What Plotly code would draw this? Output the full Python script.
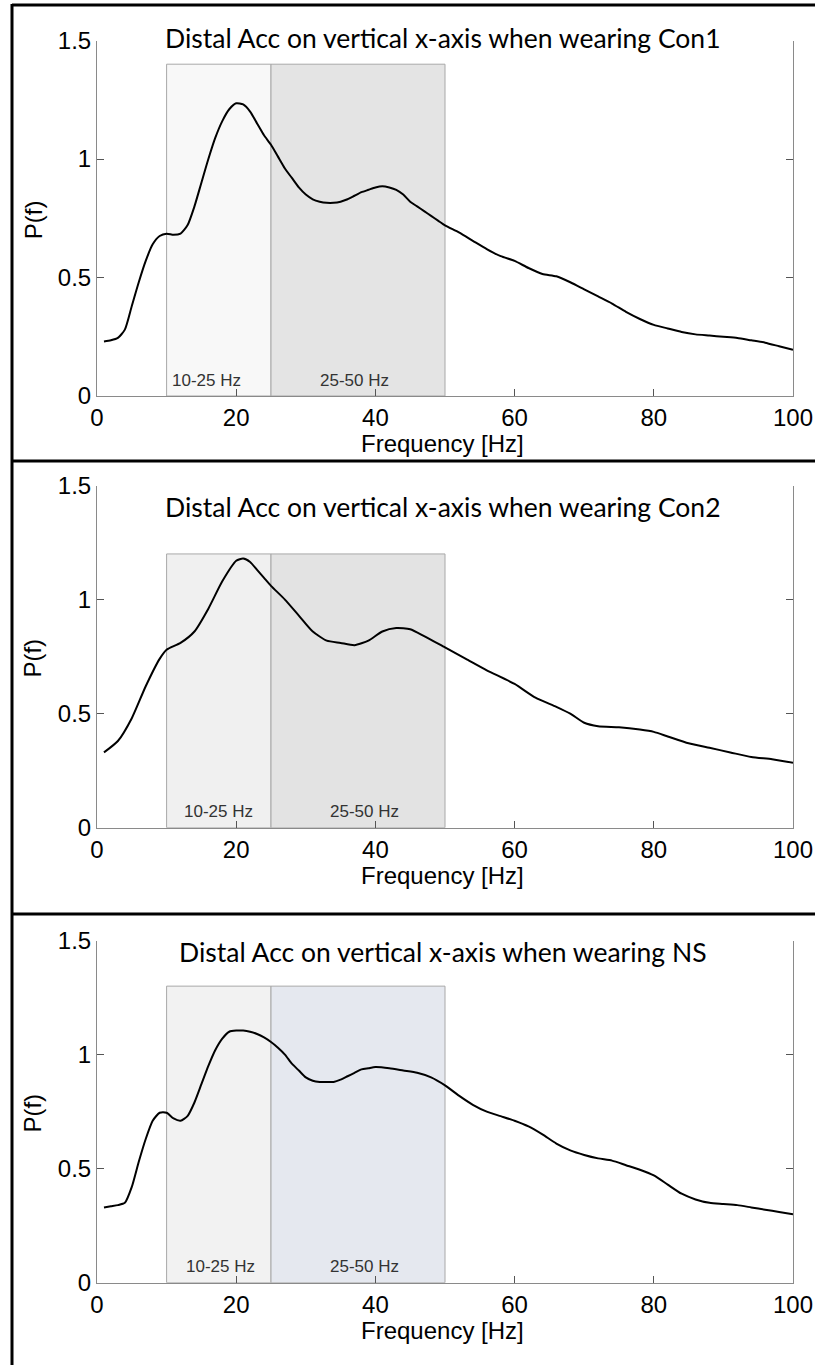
import plotly.graph_objects as go

W, H = 815, 1365

# ---------------- data ----------------
titles = [
    "Distal Acc on vertical x-axis when wearing Con1",
    "Distal Acc on vertical x-axis when wearing Con2",
    "Distal Acc on vertical x-axis when wearing NS",
]

freq_con1 = [1, 2, 3, 4, 5, 6, 7, 8, 9, 10, 11, 12, 13, 14, 15, 16, 17, 18, 19, 20, 21, 22, 23, 24, 25,
             26, 27, 28, 29, 30, 31, 32, 33, 34, 35, 36, 37, 38, 39, 40, 41, 42, 43, 44, 45, 46, 47, 48, 49, 50,
             52, 54, 56, 58, 60, 62, 64, 66, 68, 70, 72, 74, 76, 78, 80, 82, 84, 86, 88, 90, 92, 94, 96, 98, 100]
pf_con1 = [0.23, 0.235, 0.245, 0.28, 0.38, 0.48, 0.57, 0.64, 0.675, 0.685, 0.68, 0.685, 0.72, 0.80, 0.90,
           1.00, 1.09, 1.16, 1.21, 1.235, 1.23, 1.20, 1.15, 1.10, 1.06,
           1.01, 0.96, 0.92, 0.88, 0.85, 0.83, 0.82, 0.815, 0.815, 0.82, 0.83, 0.845, 0.86, 0.87, 0.88,
           0.885, 0.88, 0.87, 0.85, 0.82, 0.80, 0.78, 0.76, 0.74, 0.72,
           0.69, 0.655, 0.62, 0.59, 0.57, 0.54, 0.515, 0.505, 0.48, 0.45, 0.42, 0.39, 0.355, 0.325, 0.30,
           0.285, 0.27, 0.26, 0.255, 0.25, 0.245, 0.235, 0.225, 0.21, 0.195]

freq_con2 = [1, 3, 5, 7, 9, 10, 12, 14, 16, 18, 20, 21, 22, 23, 24, 25, 27, 29, 31, 33, 35, 37, 39, 41,
             43, 45, 47, 50, 53, 56, 60, 63, 66, 68, 70, 72, 75, 78, 80, 82, 85, 88, 91, 94, 97, 100]
pf_con2 = [0.33, 0.38, 0.48, 0.62, 0.74, 0.78, 0.81, 0.86, 0.96, 1.08, 1.17, 1.18, 1.165, 1.13, 1.095, 1.06,
           1.00, 0.93, 0.86, 0.82, 0.81, 0.80, 0.82, 0.86, 0.875, 0.87, 0.84, 0.79, 0.74, 0.69, 0.63, 0.57,
           0.53, 0.50, 0.46, 0.445, 0.44, 0.43, 0.42, 0.40, 0.37, 0.35, 0.33, 0.31, 0.30, 0.285]

freq_ns = [1, 2, 3, 4, 5, 6, 7, 8, 9, 10, 11, 12, 13, 14, 15, 16, 17, 18, 19, 20, 21, 22, 23, 24, 25,
           26, 27, 28, 29, 30, 31, 32, 33, 34, 35, 36, 37, 38, 39, 40, 42, 44, 46, 48, 50,
           52, 54, 56, 58, 60, 62, 64, 66, 68, 70, 72, 74, 76, 78, 80, 82, 84, 86, 88, 90, 92, 94, 96, 98, 100]
pf_ns = [0.33, 0.335, 0.34, 0.35, 0.42, 0.53, 0.63, 0.71, 0.745, 0.745, 0.72, 0.71, 0.73, 0.79, 0.87,
         0.95, 1.02, 1.07, 1.10, 1.105, 1.105, 1.10, 1.09, 1.075, 1.055,
         1.03, 1.00, 0.96, 0.93, 0.90, 0.885, 0.88, 0.88, 0.88, 0.89, 0.905, 0.92, 0.935, 0.94, 0.945,
         0.94, 0.93, 0.92, 0.90, 0.865,
         0.82, 0.78, 0.75, 0.73, 0.71, 0.685, 0.65, 0.61, 0.58, 0.56, 0.545, 0.535, 0.515, 0.495, 0.47,
         0.43, 0.39, 0.365, 0.35, 0.345, 0.34, 0.33, 0.32, 0.31, 0.30]

band_edges = [10, 25, 50]
band_labels = ["10-25 Hz", "25-50 Hz"]
band_tops = [1.4, 1.2, 1.3]
band_colors = [["#f8f8f8", "#e4e4e4"], ["#f0f0f0", "#e3e3e3"], ["#f2f2f2", "#e5e8ef"]]

x_ticks = [0, 20, 40, 60, 80, 100]
y_ticks = [0, 0.5, 1, 1.5]
y_tick_text = ["0", "0.5", "1", "1.5"]

series = [(freq_con1, pf_con1), (freq_con2, pf_con2), (freq_ns, pf_ns)]

# ---------------- layout geometry (pixels) ----------------
x0_px, x1_px = 97, 793
panel_px = [(40.5, 396.0), (485.5, 827.7), (940.5, 1282.7)]
title_y_px = [37, 506, 951]
label_pos = [[15.7, 37.0], [17.5, 38.5], [17.8, 38.4]]

def py(px):
    return 1 - px / H

fig = go.Figure()
layout = dict(
    width=W, height=H,
    margin=dict(l=0, r=0, t=0, b=0, pad=0, autoexpand=False),
    paper_bgcolor="white", plot_bgcolor="white",
    showlegend=False,
    shapes=[], annotations=[],
)

tick_font = dict(family="Liberation Sans, Arial", size=24, color="black")
title_font = dict(family="Liberation Sans, Arial", size=24, color="black")

for i, (fx, fv) in enumerate(series):
    n = "" if i == 0 else str(i + 1)
    xa, ya = "x" + n, "y" + n
    fig.add_trace(go.Scatter(x=fx, y=fv, mode="lines", xaxis=xa, yaxis=ya,
                             line=dict(color="black", width=2, shape="spline", smoothing=0.6),
                             hoverinfo="skip", cliponaxis=False))
    top, bot = panel_px[i]
    layout["xaxis" + n] = dict(
        domain=[x0_px / W, x1_px / W], anchor=ya, range=[0, 100], automargin=False,
        tickvals=x_ticks, ticktext=[str(t) for t in x_ticks],
        ticks="inside", ticklen=7, tickcolor="#555555", tickwidth=1,
        showline=True, linecolor="#8a8a8a", linewidth=1, mirror=False,
        showgrid=False, zeroline=False, tickfont=tick_font,
    )
    layout["yaxis" + n] = dict(
        domain=[py(bot), py(top)], anchor=xa, range=[0, 1.5], automargin=False,
        tickvals=y_ticks, ticktext=y_tick_text,
        ticks="inside", ticklen=7, tickcolor="#555555", tickwidth=1,
        showline=True, linecolor="#8a8a8a", linewidth=1, mirror="ticks",
        showgrid=False, zeroline=False, tickfont=tick_font,
    )
    # shaded frequency bands
    for j in range(2):
        layout["shapes"].append(dict(
            type="rect", xref=xa, yref=ya,
            x0=band_edges[j], x1=band_edges[j + 1], y0=0, y1=band_tops[i],
            fillcolor=band_colors[i][j], line=dict(color="#a8a8a8", width=1), layer="below",
        ))
        layout["annotations"].append(dict(
            xref=xa, yref="paper", x=label_pos[i][j], y=py(bot - 16),
            text=band_labels[j], showarrow=False, xanchor="center", yanchor="middle",
            font=dict(family="Liberation Sans, Arial", size=17, color="#333333"),
        ))
    # panel title (text box)
    layout["annotations"].append(dict(
        xref="paper", yref="paper", x=443 / W, y=py(title_y_px[i] + 1),
        text=titles[i], showarrow=False, xanchor="center", yanchor="middle",
        font=dict(family="Lato, Open Sans", size=26.5, color="black"),
    ))
    # axis titles
    layout["annotations"].append(dict(
        xref="paper", yref="paper", x=442 / W, y=py(bot + 48),
        text="Frequency [Hz]", showarrow=False, xanchor="center", yanchor="middle",
        font=title_font,
    ))
    layout["annotations"].append(dict(
        xref="paper", yref="paper", x=33 / W, y=py((top + bot) / 2 + 2),
        text="P(f)", showarrow=False, xanchor="center", yanchor="middle", textangle=-90,
        font=title_font,
    ))

# outer frame and panel separators
frame = dict(color="black", width=3)
layout["shapes"].append(dict(type="line", xref="paper", yref="paper",
                             x0=12 / W, x1=12 / W, y0=0, y1=py(4), line=frame))
for ypx in [5, 461, 914]:
    layout["shapes"].append(dict(type="line", xref="paper", yref="paper",
                                 x0=12 / W, x1=1, y0=py(ypx), y1=py(ypx), line=frame))

fig.update_layout(**layout)
fig.write_html("out.html")
